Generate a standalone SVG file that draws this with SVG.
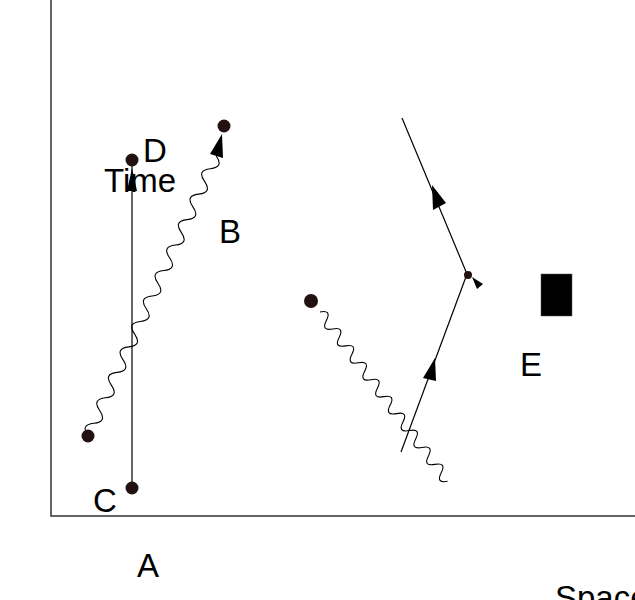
<svg xmlns="http://www.w3.org/2000/svg" width="635" height="600" viewBox="0 0 635 600">
<style>
.t{font-family:"Liberation Sans",Arial,sans-serif;font-size:33px;fill:#000}
.dot{fill:#231010}
.ln{stroke:#000;stroke-width:1.2;fill:none}
.wv{stroke:#000;stroke-width:1.1;fill:none}
.ah{fill:#000}
</style>
<rect width="635" height="600" fill="#fff"/>
<g id="axes">
<path d="M51,0 V516 H635" fill="none" stroke="#333" stroke-width="1.5"/>
</g>
<g id="connectors">
<line class="ln" x1="132" y1="160" x2="132" y2="488"/>
<polygon class="ah" points="132,168 127,191 137,191"/>
<path class="wv" transform="translate(88,436) rotate(-65.4)" d="M0,0 q7,-12 14,0 t14,0 t14,0 t14,0 t14,0 t14,0 t14,0 t14,0 t14,0 t14,0 t14,0 t14,0 t14,0 t14,0 t14,0 t14,0 t14,0 t14,0 t14,0 t14,0 t14,0 t14,0"/>
<polygon class="ah" points="222,134 210,154 223,158"/>
<line class="ln" x1="402" y1="118" x2="467" y2="274"/>
<polygon class="ah" points="432,185 433,210 446,203"/>
<line class="ln" x1="467" y1="274" x2="401" y2="452"/>
<polygon class="ah" points="435,358 423,378 436,381"/>
<polygon class="ah" points="472,277 483,284 477,289"/>
<path class="wv" transform="translate(320,312) rotate(53)" d="M0,0 q5.3,-11 10.6,0 t10.6,0 t10.6,0 t10.6,0 t10.6,0 t10.6,0 t10.6,0 t10.6,0 t10.6,0 t10.6,0 t10.6,0 t10.6,0 t10.6,0 t10.6,0 t10.6,0 t10.6,0 t10.6,0 t10.6,0 t10.6,0 t10.6,0"/>
</g>
<g id="D"><circle class="dot" cx="132" cy="160" r="6.5"/><text class="t" x="143" y="162">D</text></g>
<g id="Time"><text class="t" x="104" y="192">Time</text></g>
<g id="C"><circle class="dot" cx="132" cy="488" r="6.5"/><text class="t" x="93" y="512">C</text></g>
<g id="B"><circle class="dot" cx="88" cy="436" r="6.5"/><circle class="dot" cx="224" cy="126" r="6.5"/><text class="t" x="219" y="243">B</text></g>
<g id="source"><circle class="dot" cx="311" cy="301" r="7"/></g>
<g id="vertex"><circle class="dot" cx="468" cy="275" r="4"/></g>
<g id="E"><rect x="541" y="274" width="31" height="42" fill="#000" stroke="#555" stroke-width="0.5"/><text class="t" x="520" y="376">E</text></g>
<g id="A"><text class="t" x="137" y="577">A</text></g>
<g id="Space"><text class="t" x="555" y="609">Space</text></g>
</svg>
